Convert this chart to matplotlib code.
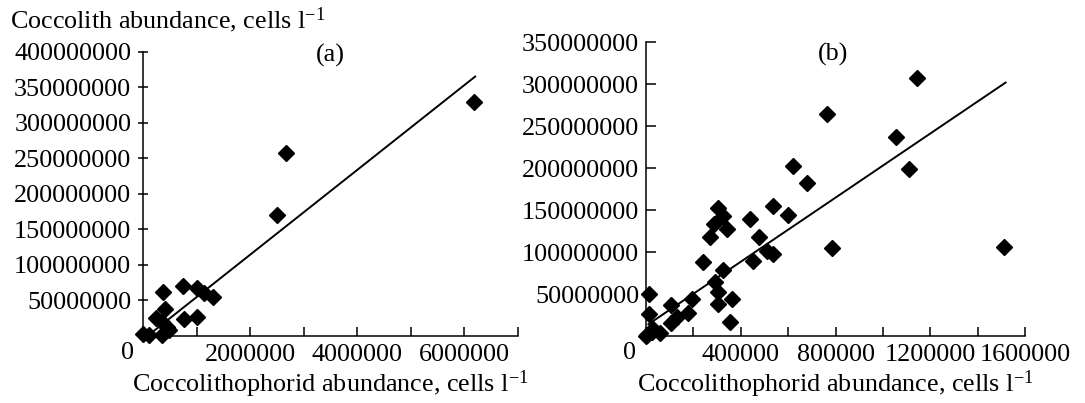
import numpy as np
import matplotlib
matplotlib.use('Agg')
import matplotlib.pyplot as plt

plt.rcParams['font.family'] = ['Liberation Serif', 'DejaVu Serif']
plt.rcParams['mathtext.fontset'] = 'custom'
plt.rcParams['mathtext.rm'] = 'Liberation Serif'
plt.rcParams['mathtext.it'] = 'Liberation Serif:italic'
FS = 18.8

# ---- panel (a): values in cells per litre ----
a_x = np.array([0.006, 0.12, 0.25, 0.35, 0.35, 0.41, 0.45, 0.49, 0.38, 0.75, 0.76,
                1.00, 1.01, 1.14, 1.30, 2.51, 2.67, 6.18]) * 1e6
a_y = np.array([3, 1, 26, 1, 20, 37.5, 13, 8.4, 61.5, 71, 24,
                67, 26.5, 60, 55, 170, 257, 329.6]) * 1e6
a_fit_x = np.array([0.15, 6.2]) * 1e6
a_fit_y = np.array([4, 365]) * 1e6
a_xticks = np.arange(0, 7000001, 1000000)
a_xticklabels = ['', '', '2000000', '', '4000000', '', '6000000', '']
a_yticks = np.arange(50000000, 400000001, 50000000)

# ---- panel (b) ----
b_x = np.array([1.143, 0.763, 1.055, 0.619, 0.681, 1.112, 0.601, 0.784, 1.513,
                0.535, 0.439, 0.478, 0.509, 0.537, 0.453, 0.305, 0.326, 0.287,
                0.343, 0.270, 0.239, 0.324, 0.291, 0.305, 0.305, 0.362, 0.355,
                0.193, 0.179, 0.106, 0.130, 0.104, 0.014, 0.014, 0.0, 0.024,
                0.059, 0.031, 0.005]) * 1e6
b_y = np.array([308, 265, 237.5, 202.6, 182, 198.6, 144, 104.5, 105.7,
                155, 140, 117.6, 101.7, 97.7, 89.8, 153, 143, 134,
                127.9, 118, 88, 78.6, 64.7, 52.8, 38, 44.5, 17,
                44.5, 27.8, 37, 23, 15, 49.7, 26, 0, 5,
                3, 8, 1]) * 1e6
b_fit_x = np.array([0.01, 1.518]) * 1e6
b_fit_y = np.array([14, 302]) * 1e6
b_xticks = np.arange(0, 1600001, 200000)
b_xticklabels = ['', '', '400000', '', '800000', '', '1200000', '', '1600000']
b_yticks = np.arange(50000000, 350000001, 50000000)

W, H = 1085, 403
fig = plt.figure(figsize=(W / 100, H / 100), dpi=100)

ax1 = fig.add_axes([143 / W, 1 - 336 / H, 375 / W, 284.3 / H])
ax2 = fig.add_axes([646 / W, 1 - 336 / H, 379 / W, 293.7 / H])


def style(ax, xlim, ylim, xticks, xlabels, yticks, ydir, h_px):
    ax.set_xlim(*xlim)
    ax.set_ylim(*ylim)
    for s in ['top', 'right']:
        ax.spines[s].set_visible(False)
    for s in ['left', 'bottom']:
        ax.spines[s].set_linewidth(1.1)
    ax.set_xticks(xticks)
    ax.set_xticklabels(xlabels)
    ax.set_yticks(yticks)
    ax.set_yticklabels([str(int(v)) for v in yticks])
    ax.tick_params(axis='x', direction='in', length=6.5, width=1.1,
                   labelsize=FS, pad=6)
    ax.tick_params(axis='y', direction=ydir, length=7, width=1.1,
                   labelsize=FS, pad=5)
    ax.set_xlabel('Coccolithophorid abundance, cells l$^{-1}$', fontsize=FS, va='center')
    ax.xaxis.set_label_coords(0.5, -48 / h_px)
    ax.annotate('0', xy=(0, 0), xycoords='axes fraction', xytext=(-16, -17),
                textcoords='offset pixels', ha='center', va='center', fontsize=FS)


style(ax1, (0, 7000000), (0, 400000000), a_xticks, a_xticklabels, a_yticks, 'inout', 284.3)
style(ax2, (0, 1600000), (0, 350000000), b_xticks, b_xticklabels, b_yticks, 'in', 293.7)

ax1.plot(a_x, a_y, 'D', color='black', ms=8.3, clip_on=False, zorder=3)
ax1.plot(a_fit_x, a_fit_y, color='black', lw=1.4, clip_on=False)
ax2.plot(b_x, b_y, 'D', color='black', ms=8.3, clip_on=False, zorder=3)
ax2.plot(b_fit_x, b_fit_y, color='black', lw=1.4, clip_on=False)

ax1.text(3.5e6, 395e6, '(a)', fontsize=FS, ha='center', va='center')
ax2.text(0.79e6, 335e6, '(b)', fontsize=FS, ha='center', va='center')

fig.text(10 / W, 1 - 20 / H, 'Coccolith abundance, cells l$^{-1}$', fontsize=FS,
         ha='left', va='center')

fig.savefig('out.png', dpi=100)
